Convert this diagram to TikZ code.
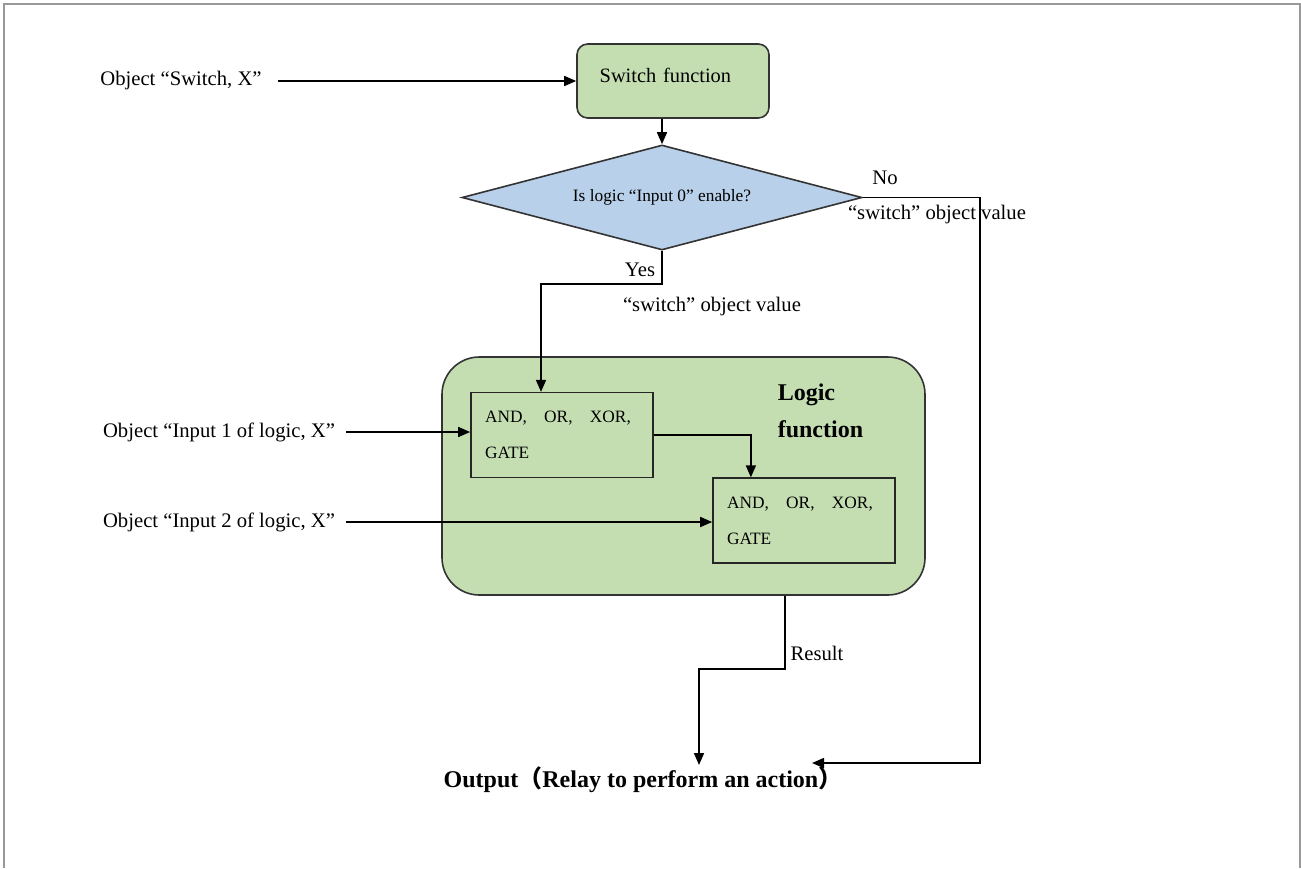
\documentclass[tikz,border=0pt]{standalone}
\usepackage{fontspec}
\setmainfont{Liberation Serif}
\newfontfamily\cjkfont{Noto Sans CJK SC}
\usetikzlibrary{arrows.meta,shapes.geometric}
\definecolor{FuncGreen}{RGB}{196,222,178}
\definecolor{TestBlue}{RGB}{184,208,233}

\begin{document}
\begin{tikzpicture}[
  x=0.75pt, y=-0.75pt,
  >={Triangle[length=9pt,width=7.5pt]},
  line width=1.2pt,
  lab/.style={font=\fontsize{15.5}{18}\selectfont, inner sep=2pt},
  func/.style={rectangle, draw=black!80, fill=FuncGreen, rounded corners=8pt},
  test/.style={diamond, draw=black!80, fill=TestBlue, aspect=3.8, inner sep=0pt, minimum width=300pt, minimum height=78.75pt, font=\fontsize{13}{15}\selectfont},
  gate/.style={rectangle, draw=black!85, fill=FuncGreen, text width=115.5pt, inner xsep=10.5pt, minimum height=63.5pt, align=left, font=\fontsize{13}{27}\selectfont},
  title/.style={font=\fontsize{18}{28}\selectfont\bfseries, align=left, inner sep=0pt},
]
\useasboundingbox (0,0) rectangle (1301,868);
\draw[gray!80, line width=1.5pt] (4,868) -- (4,4) -- (1300,4) -- (1300,868);

% boxes
\node[func, minimum width=144pt, minimum height=55.5pt, text width=110pt, inner xsep=17pt, align=left, text depth=8pt, font=\fontsize{15.3}{18}\selectfont] (swfun) at (673,81) {Switch function};
\node[test] (dec) at (662,197.5) {Is logic “Input 0” enable?};
\node[func, rounded corners=28pt, minimum width=362.25pt, minimum height=178.5pt] (logic) at (683.5,476) {};
\node[title, anchor=west] (lgctitle) at (777,411) {Logic\\function};
\node[gate] (gate1) at (562,435) {AND,\quad OR,\quad XOR,\\GATE};
\node[gate] (gate2) at (804,520.5) {AND,\quad OR,\quad XOR,\\GATE};

% labels
\node[lab] (objsw) at (181,81) {Object “Switch, X”};
\node[lab] (in1) at (219,432) {Object “Input 1 of logic, X”};
\node[lab] (in2) at (219,522) {Object “Input 2 of logic, X”};
\node[lab] (yes) at (640,270) {Yes};
\node[lab] (no) at (885,178) {No};
\node[lab] (yesval) at (712,307) {“switch” object value};
\node[lab] (noval) at (937,215) {“switch” object value};
\node[lab] (result) at (817,653) {Result};
\node[font=\fontsize{18}{22}\selectfont\bfseries] (out) at (643,780) {Output{\cjkfont （}Relay to perform an action{\cjkfont ）}};

\coordinate (yesbend) at (541,284);
\coordinate (rside) at (980,763);
\coordinate (noend) at (812,763);
\coordinate (resbend) at (785,669);
\coordinate (resend) at (699,765);

% connectors
\draw[->] ([xshift=10pt]objsw.east) -- (objsw.east -| swfun.west);
\draw[->] (dec.north |- swfun.south) -- (dec.north);
\draw[->] (dec.south) |- (yesbend) -- (yesbend |- gate1.north);
\draw[->] (dec.east) -| (rside) -- (noend);
\draw[->] ([xshift=6pt]in1.east) -- (in1.east -| gate1.west);
\draw[->] ([xshift=6pt]in2.east) -- (in2.east -| gate2.west);
\draw[->] (gate1.east) -| ([xshift=29pt]gate2.north west);
\draw[->] (logic.south -| resbend) -- (resbend) -| (resend);
\end{tikzpicture}
\end{document}
